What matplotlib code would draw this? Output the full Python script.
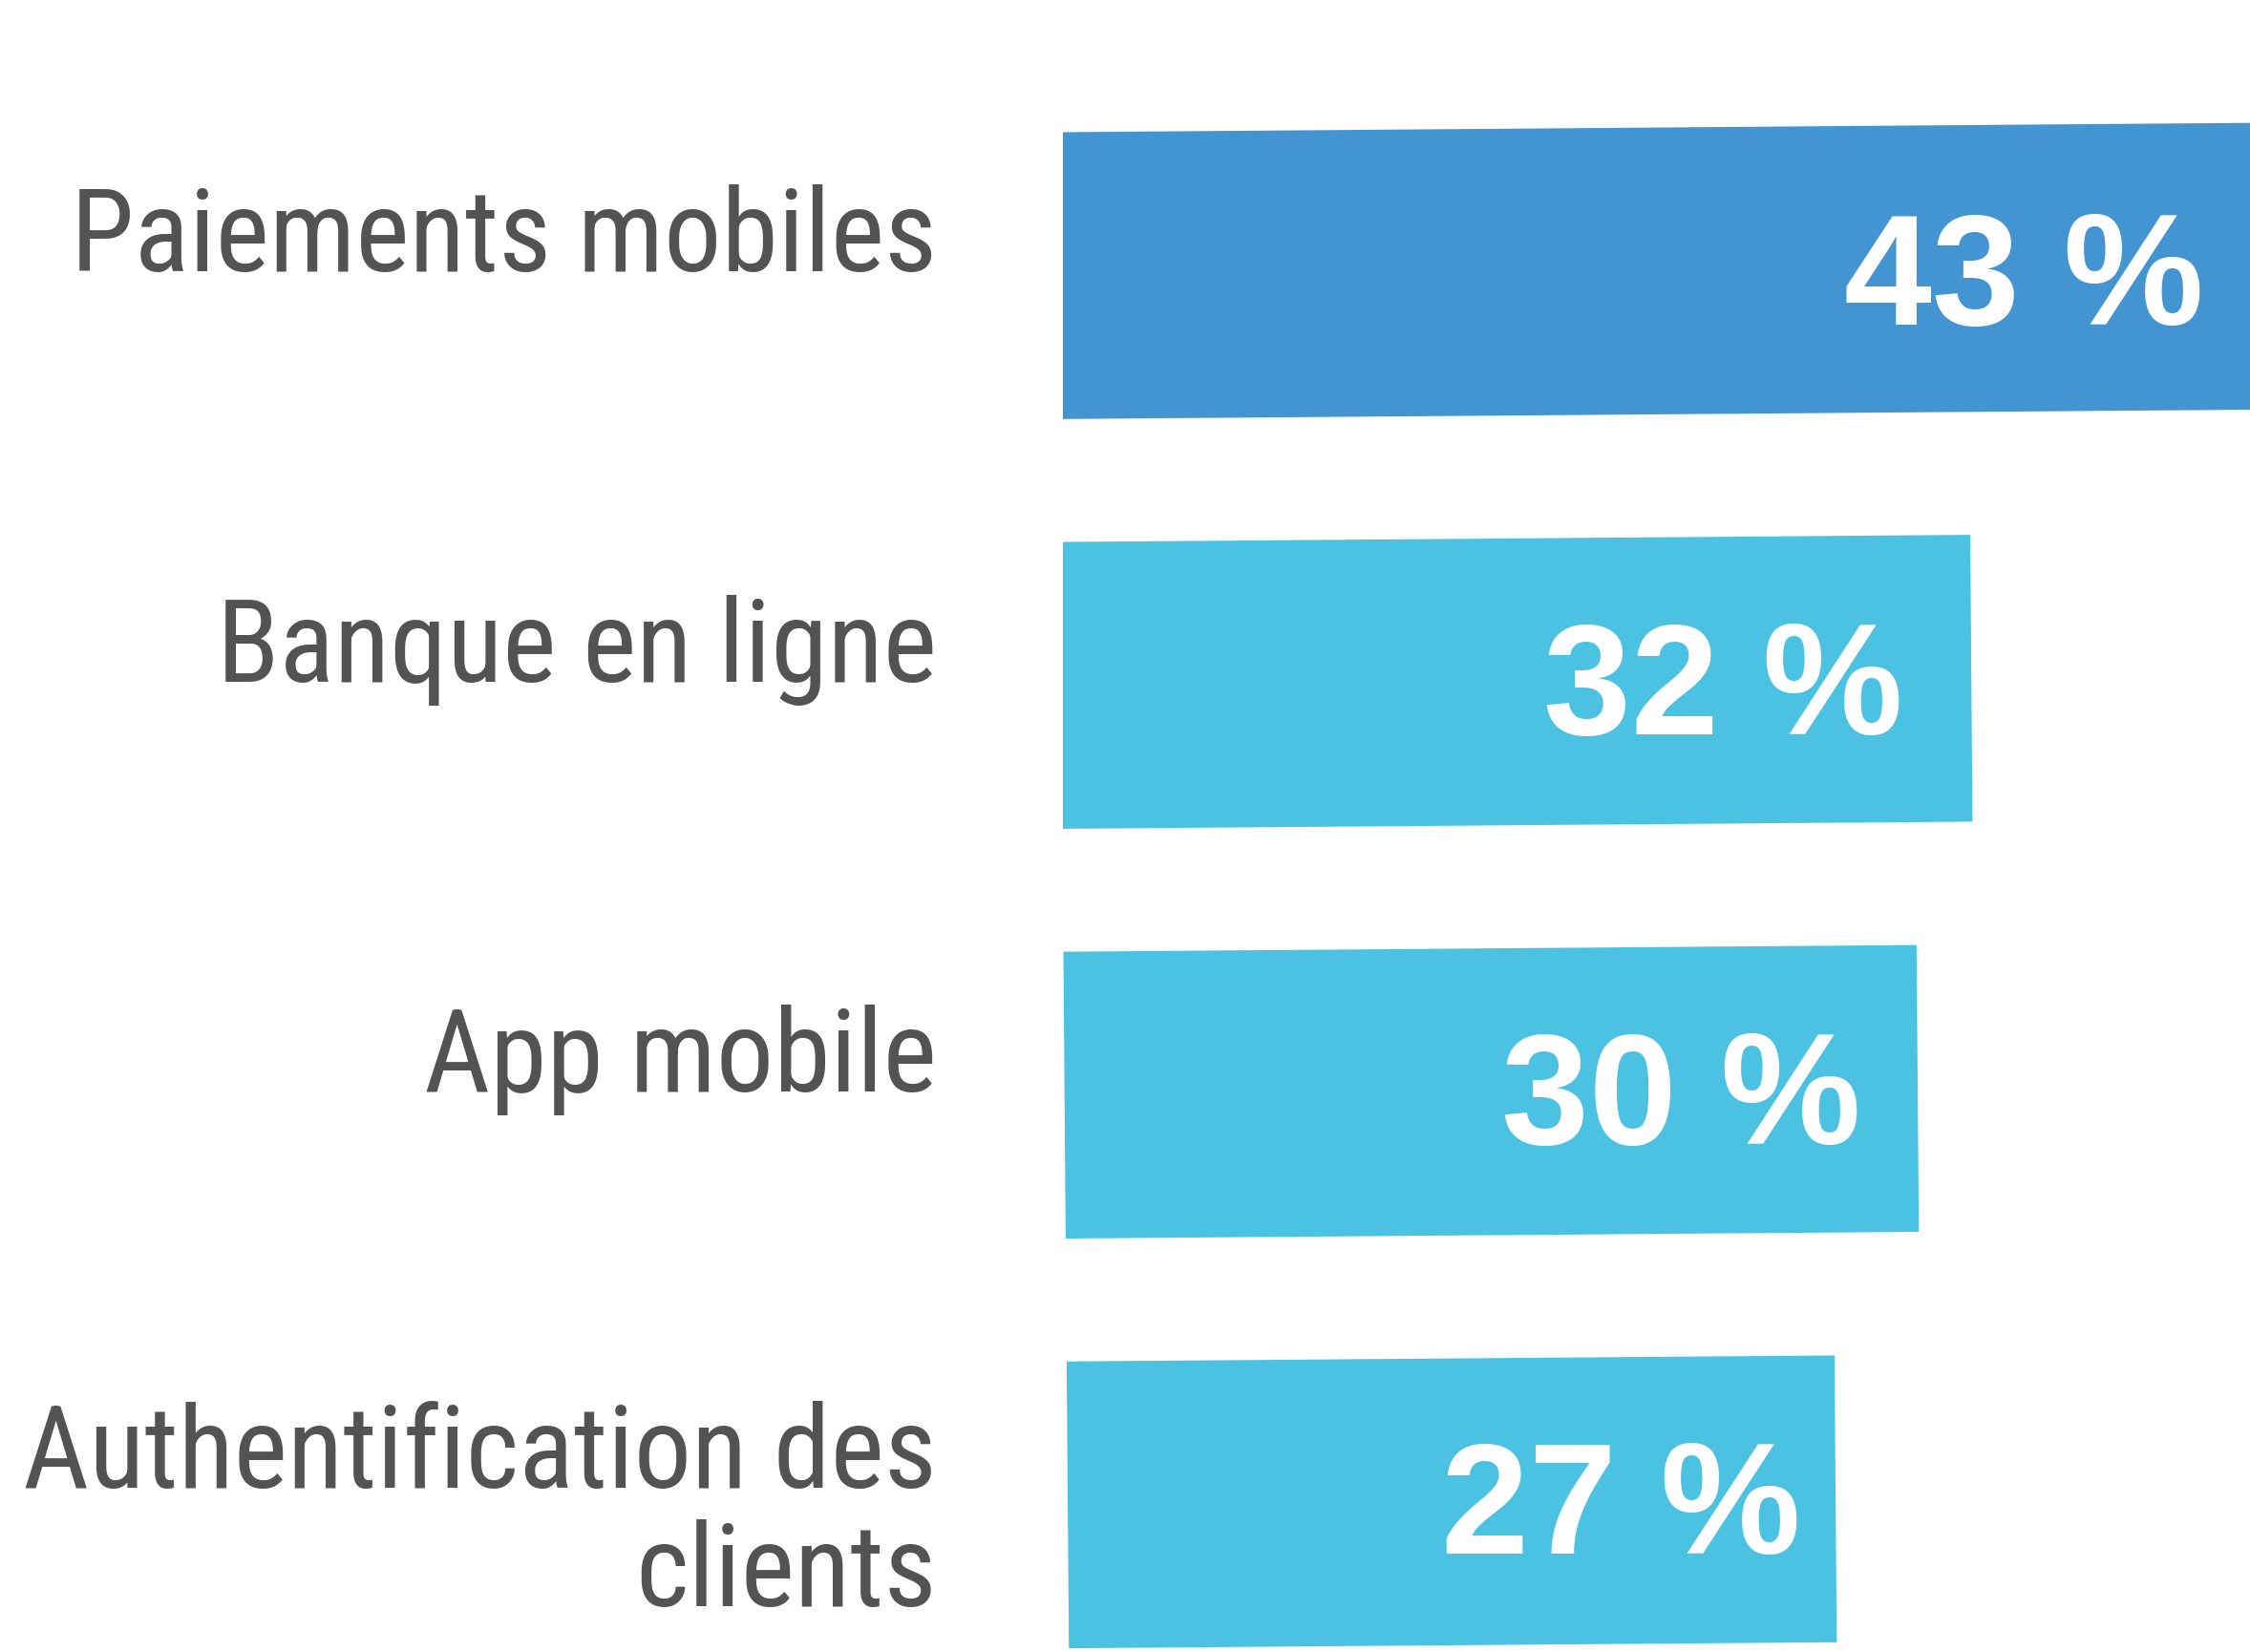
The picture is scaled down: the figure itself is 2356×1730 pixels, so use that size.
import matplotlib
matplotlib.use("Agg")
import matplotlib.pyplot as plt
from matplotlib.transforms import Affine2D, blended_transform_factory

categories = ["Paiements mobiles", "Banque en ligne", "App mobile",
              "Authentification des\nclients"]
values = [43, 32, 30, 27]
value_labels = ["43 %", "32 %", "30 %", "27 %"]

bar_colors = ["#4395D1", "#4BC2E1", "#4BC2E1", "#4BC2E1"]
label_color = "#535353"
label_anchor_frac = [0.786, 0.725, 0.725, 0.727]  # centre of value text, as fraction of value

W, H, DPI = 2356, 1731, 100
fig = plt.figure(figsize=(W / DPI, H / DPI), dpi=DPI)
fig.patch.set_facecolor("white")

ax_left = 1113 / W
ax = fig.add_axes([ax_left, 0, 1 - ax_left, 1])
ax.set_xlim(0, 41.74)
ax.set_ylim(3.359, -0.675)
ax.axis("off")

ypos = list(range(len(categories)))
bars = ax.barh(ypos, values, height=0.70, color=bar_colors, linewidth=0)

# slight tilt of the bars as in the reference
fig.canvas.draw()
cx, cy = ax.transData.transform((0, 1.5))
rot = Affine2D().rotate_deg_around(cx, cy, 0.45)
for b in bars:
    b.set_transform(ax.transData + rot)

for y, v, lab, f in zip(ypos, values, value_labels, label_anchor_frac):
    ax.text(v * f, y + 0.117, lab, ha="center", va="baseline", color="white",
            fontsize=119, fontweight="bold", family="Liberation Sans")

trans = blended_transform_factory(fig.transFigure, ax.transData)
for y, cat in zip(ypos, categories):
    dy = 0.245 if "\n" in cat else -0.012
    fig.text(981 / W, y + dy, cat, transform=trans, ha="right", va="baseline",
             multialignment="right", color=label_color, fontsize=86.5,
             family="Roboto Condensed", fontweight="normal", fontstyle="normal",
             linespacing=1.09)

fig.savefig("out.png", dpi=DPI, facecolor="white")
